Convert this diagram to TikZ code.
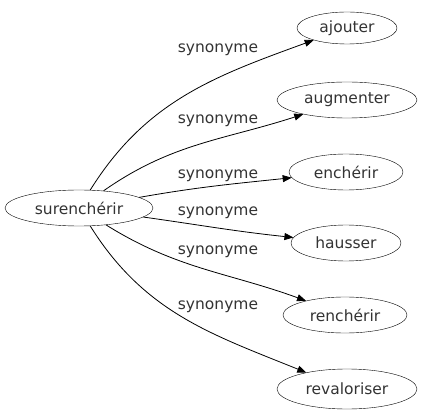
\documentclass[tikz,border=0pt]{standalone}
\usepackage{fontspec}
\setmainfont{DejaVu Sans}
\usetikzlibrary{shapes.geometric,arrows.meta}
\begin{document}
\begin{tikzpicture}[x=1pt,y=-1pt,
  every node/.style={font=\fontsize{15.5}{18}\selectfont, text=black!80},
  word/.style={draw, ellipse, minimum height=36pt, inner sep=0pt},
  lbl/.style={inner sep=0pt},
  edge/.style={draw, line width=0.8pt, -{Triangle[length=9pt,width=7pt]}}]
\useasboundingbox (0,0) rectangle (422,419);
\node[word, minimum width=148pt] (s) at (79,208) {surenchérir};
\node[word, minimum width=100pt, minimum height=32pt] (a1) at (347,28) {ajouter};
\node[word, minimum width=140pt] (a2) at (347,100) {augmenter};
\node[word, minimum width=114pt] (a3) at (346,172) {enchérir};
\node[word, minimum width=110pt] (a4) at (346,243) {hausser};
\node[word, minimum width=124pt] (a5) at (345,315) {renchérir};
\node[word, minimum width=140pt, minimum height=40pt] (a6) at (347,389) {revaloriser};
\node[lbl] (l1) at (218,50) {synonyme};
\node[lbl] (l2) at (218,121) {synonyme};
\node[lbl] (l3) at (218,176) {synonyme};
\node[lbl] (l4) at (218,213) {synonyme};
\node[lbl] (l5) at (218,252) {synonyme};
\node[lbl] (l6) at (218,307) {synonyme};
\path[edge] (s) to[out=58,in=200] (a1);
\path[edge] (s) to[out=35,in=198] (a2);
\path[edge] (s) to[out=10,in=186] (a3);
\path[edge] (s) to[out=-8,in=174] (a4);
\path[edge] (s) to[out=-32,in=160] (a5);
\path[edge] (s) to[out=-58,in=158] (a6);
\end{tikzpicture}
\end{document}
